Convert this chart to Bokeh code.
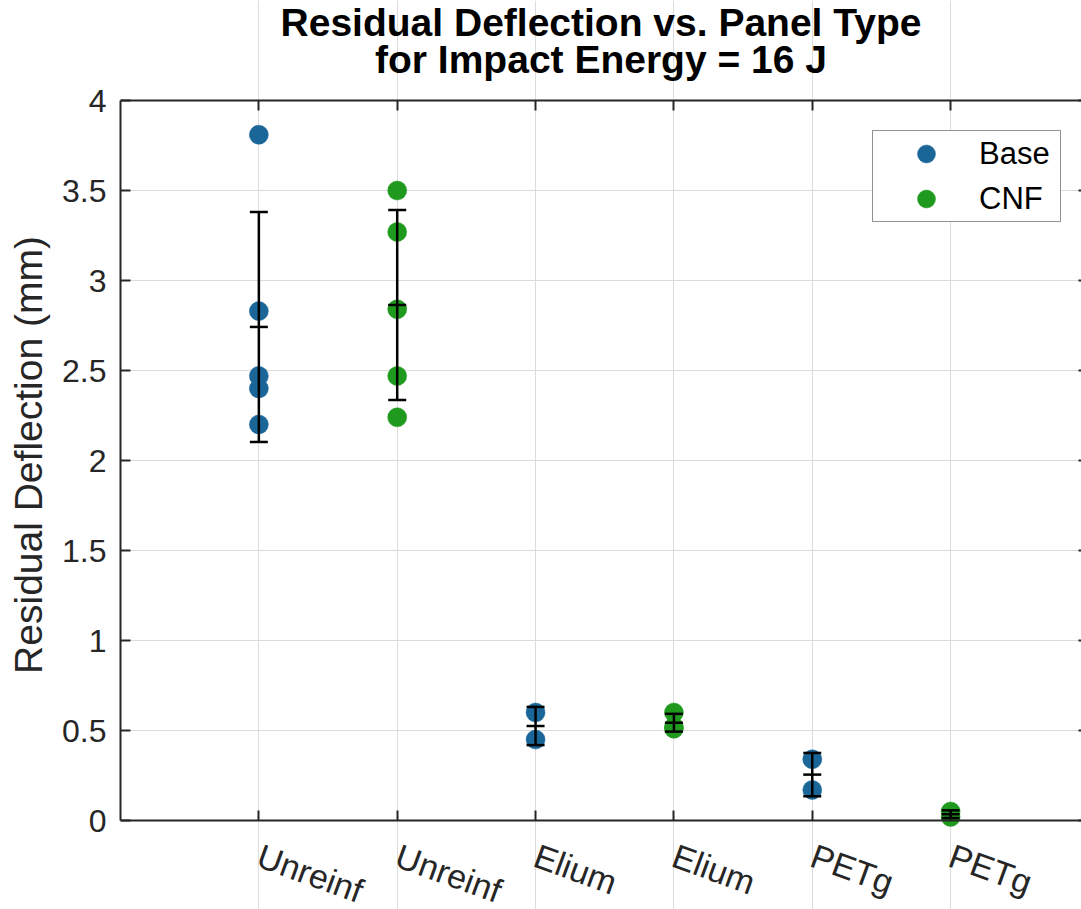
import numpy as np
from bokeh.plotting import figure
from bokeh.models import (Range1d, FixedTicker, LinearAxis, Legend, LegendItem,
                          Whisker, ColumnDataSource, TeeHead)
from bokeh.embed import file_html
from bokeh.resources import INLINE

# ---------------- data ----------------
panel_labels = ["Unreinf", "Unreinf", "Elium", "Elium", "PETg", "PETg"]
panel_groups = ["Base", "CNF", "Base", "CNF", "Base", "CNF"]
positions = [1, 2, 3, 4, 5, 6]

unreinf_base = [3.81, 2.83, 2.47, 2.40, 2.20]
unreinf_cnf = [3.50, 3.27, 2.84, 2.47, 2.24]
elium_base = [0.60, 0.45]
elium_cnf = [0.60, 0.52, 0.51]
petg_base = [0.34, 0.17]
petg_cnf = [0.05, 0.02]

y_ticks = [0, 0.5, 1, 1.5, 2, 2.5, 3, 3.5, 4]
y_tick_labels = ["0", "0.5", "1", "1.5", "2", "2.5", "3", "3.5", "4"]
y_min, y_max = 0, 4

title_line1 = "Residual Deflection vs. Panel Type"
title_line2 = "for Impact Energy = 16 J"
y_label = "Residual Deflection (mm)"

series = [unreinf_base, unreinf_cnf, elium_base, elium_cnf, petg_base, petg_cnf]

BASE_COLOR = "#1b6698"
CNF_COLOR = "#1f9a1f"
AX_COLOR = "#262626"
GRID_COLOR = "#dcdcdc"
FONT = "Liberation Sans"

# ---------------- sources ----------------
bx, by, cx, cy = [], [], [], []
for pos, grp, vals in zip(positions, panel_groups, series):
    if grp == "Base":
        bx += [pos] * len(vals); by += list(vals)
    else:
        cx += [pos] * len(vals); cy += list(vals)
base_src = ColumnDataSource(dict(x=bx, y=by))
cnf_src = ColumnDataSource(dict(x=cx, y=cy))

means = [float(np.mean(v)) for v in series]
stds = [float(np.std(v, ddof=1)) for v in series]
stat_src = ColumnDataSource(dict(x=positions, mean=means,
                                 upper=[m + s for m, s in zip(means, stds)],
                                 lower=[m - s for m, s in zip(means, stds)]))

# ---------------- figure ----------------
# The frame spans the full page height; the box axes are pinned at y = 0 and y = 4
p = figure(width=1081, height=909, x_range=Range1d(0, 6.946),
           y_range=Range1d(-0.4944, 4.5556),
           output_backend="svg", toolbar_location=None, title=None,
           x_axis_location=None, y_axis_location=None,
           min_border_left=120, min_border_right=0, min_border_top=0,
           min_border_bottom=0)
p.outline_line_color = None
p.background_fill_color = "white"
p.border_fill_color = "white"

xt = FixedTicker(ticks=positions)
yt = FixedTicker(ticks=y_ticks)

left = LinearAxis(ticker=yt, axis_label=y_label, bounds=(y_min, y_max))
left.major_label_overrides = {t: l for t, l in zip(y_ticks, y_tick_labels)}
left.major_label_text_font = FONT
left.major_label_text_font_size = "32px"
left.major_label_text_color = AX_COLOR
left.major_label_standoff = 14
left.axis_label_text_font = FONT
left.axis_label_text_font_size = "39px"
left.axis_label_text_font_style = "normal"
left.axis_label_text_color = AX_COLOR
left.axis_label_standoff = 9
p.add_layout(left, "left")

bottom = LinearAxis(ticker=xt, fixed_location=y_min)
bottom.major_label_overrides = {pp: l for pp, l in zip(positions, panel_labels)}
bottom.major_label_orientation = -20 * np.pi / 180
bottom.major_label_text_font = FONT
bottom.major_label_text_font_size = "34px"
bottom.major_label_text_color = AX_COLOR
bottom.major_label_standoff = 34
p.add_layout(bottom, "below")

# top box edge, carrying the second title line as its label
top = LinearAxis(ticker=xt, fixed_location=y_max, axis_label=title_line2)
top.major_label_text_font_size = "0px"
top.major_label_standoff = 0
top.axis_label_text_font = FONT
top.axis_label_text_font_size = "39px"
top.axis_label_text_font_style = "bold"
top.axis_label_text_color = "black"
top.axis_label_standoff = 20
p.add_layout(top, "above")

# first title line (axis with no line / ticks)
top2 = LinearAxis(ticker=FixedTicker(ticks=[]), fixed_location=y_max, axis_label=title_line1)
top2.major_label_text_font_size = "0px"
top2.major_label_standoff = 0
top2.axis_line_color = None
top2.major_tick_line_color = None
top2.minor_tick_line_color = None
top2.axis_label_text_font = FONT
top2.axis_label_text_font_size = "39px"
top2.axis_label_text_font_style = "bold"
top2.axis_label_text_color = "black"
top2.axis_label_standoff = 57
p.add_layout(top2, "above")

right = LinearAxis(ticker=yt, bounds=(y_min, y_max))
right.major_label_text_font_size = "0px"
right.major_label_standoff = 0
p.add_layout(right, "right")

for ax in (left, bottom, top, right):
    ax.axis_line_color = AX_COLOR if ax is not right else None
    ax.axis_line_width = 2
    ax.major_tick_line_color = AX_COLOR
    ax.major_tick_line_width = 2
    ax.major_tick_in = 10 if ax is not right else 3
    ax.major_tick_out = 0
    ax.minor_tick_line_color = None

p.xgrid.ticker = xt
p.ygrid.ticker = yt
p.xgrid.bounds = (y_min, y_max)
p.xgrid.grid_line_color = GRID_COLOR
p.ygrid.grid_line_color = GRID_COLOR
p.xgrid.grid_line_width = 1
p.ygrid.grid_line_width = 1

# ---------------- glyphs ----------------
rb = p.scatter("x", "y", source=base_src, size=19, fill_color=BASE_COLOR,
               line_color=BASE_COLOR, line_width=0.5)
rc = p.scatter("x", "y", source=cnf_src, size=19, fill_color=CNF_COLOR,
               line_color=CNF_COLOR, line_width=0.5)

whisk = Whisker(base="x", upper="upper", lower="lower", source=stat_src,
                line_color="black", line_width=2.5, level="overlay",
                upper_head=TeeHead(size=18, line_color="black", line_width=2.5),
                lower_head=TeeHead(size=18, line_color="black", line_width=2.5))
p.add_layout(whisk)
p.scatter("x", "mean", source=stat_src, marker="dash", size=18,
          line_color="black", line_width=2.5, level="overlay")

legend = Legend(items=[LegendItem(label="Base", renderers=[rb]),
                       LegendItem(label="CNF", renderers=[rc])],
                location=(752, 687))
legend.border_line_color = AX_COLOR
legend.border_line_width = 1
legend.background_fill_color = "white"
legend.background_fill_alpha = 1
legend.label_text_font = FONT
legend.label_text_font_size = "31px"
legend.label_text_color = "black"
legend.padding = 0
legend.spacing = 0
legend.glyph_width = 106
legend.glyph_height = 45
legend.label_standoff = 0
legend.label_width = 81
legend.margin = 0
p.add_layout(legend)

open("out.html", "w").write(file_html(p, INLINE))
